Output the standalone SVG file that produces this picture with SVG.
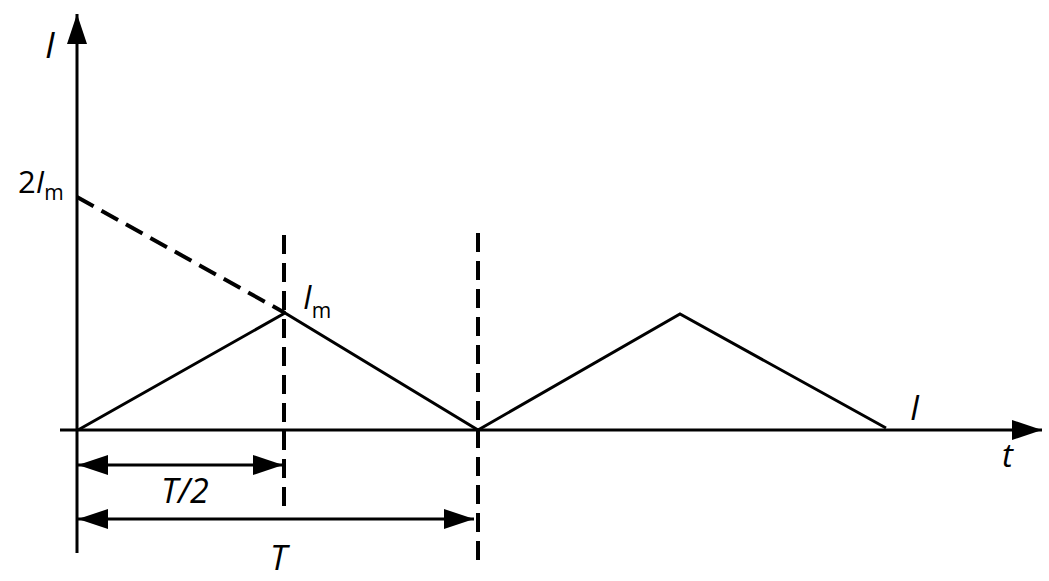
<svg xmlns="http://www.w3.org/2000/svg" width="1049" height="581" viewBox="0 0 1049 581">
<style>
.ln{stroke:#000;stroke-width:3;fill:none}
.ds{stroke:#000;stroke-width:4;fill:none;stroke-dasharray:19 9}
.tx{font-family:"Open Sans","Noto Sans",sans-serif;fill:#000}
.it{font-style:italic}
</style>
<defs>
<marker id="ah" markerWidth="30" markerHeight="20" refX="30" refY="10" orient="auto-start-reverse" markerUnits="userSpaceOnUse">
<path d="M0,0 L30,10 L0,20 Z" fill="#000"/>
</marker>
</defs>
<rect width="1049" height="581" fill="#fff"/>
<g id="axes">
<line class="ln" x1="77" y1="553" x2="77" y2="14" marker-end="url(#ah)"/>
<line class="ln" x1="60" y1="430" x2="1042" y2="430" marker-end="url(#ah)"/>
</g>
<g id="connectors">
<polyline class="ln" points="78,430 285,313 478,430 680,314 886,428"/>
<line class="ds" x1="77" y1="197" x2="285" y2="313"/>
<line class="ds" x1="284" y1="235" x2="284" y2="506"/>
<line class="ds" x1="478" y1="233" x2="478" y2="560"/>
<line class="ln" x1="78" y1="465" x2="283" y2="465" marker-start="url(#ah)" marker-end="url(#ah)"/>
<line class="ln" x1="78" y1="519" x2="474" y2="519" marker-start="url(#ah)" marker-end="url(#ah)"/>
</g>
<g id="labels">
<text class="tx it" x="45" y="58" font-size="36">I</text>
<text class="tx" x="18" y="193" font-size="31">2<tspan class="it">I</tspan><tspan font-size="21" dy="7">m</tspan></text>
<text class="tx" x="303" y="309" font-size="32"><tspan class="it">I</tspan><tspan font-size="21" dy="9">m</tspan></text>
<text class="tx it" x="161" y="503" font-size="34">T/2</text>
<text class="tx it" x="270" y="570" font-size="34">T</text>
<text class="tx it" x="910" y="420" font-size="34">I</text>
<text class="tx it" x="1002" y="467" font-size="33">t</text>
</g>
</svg>
